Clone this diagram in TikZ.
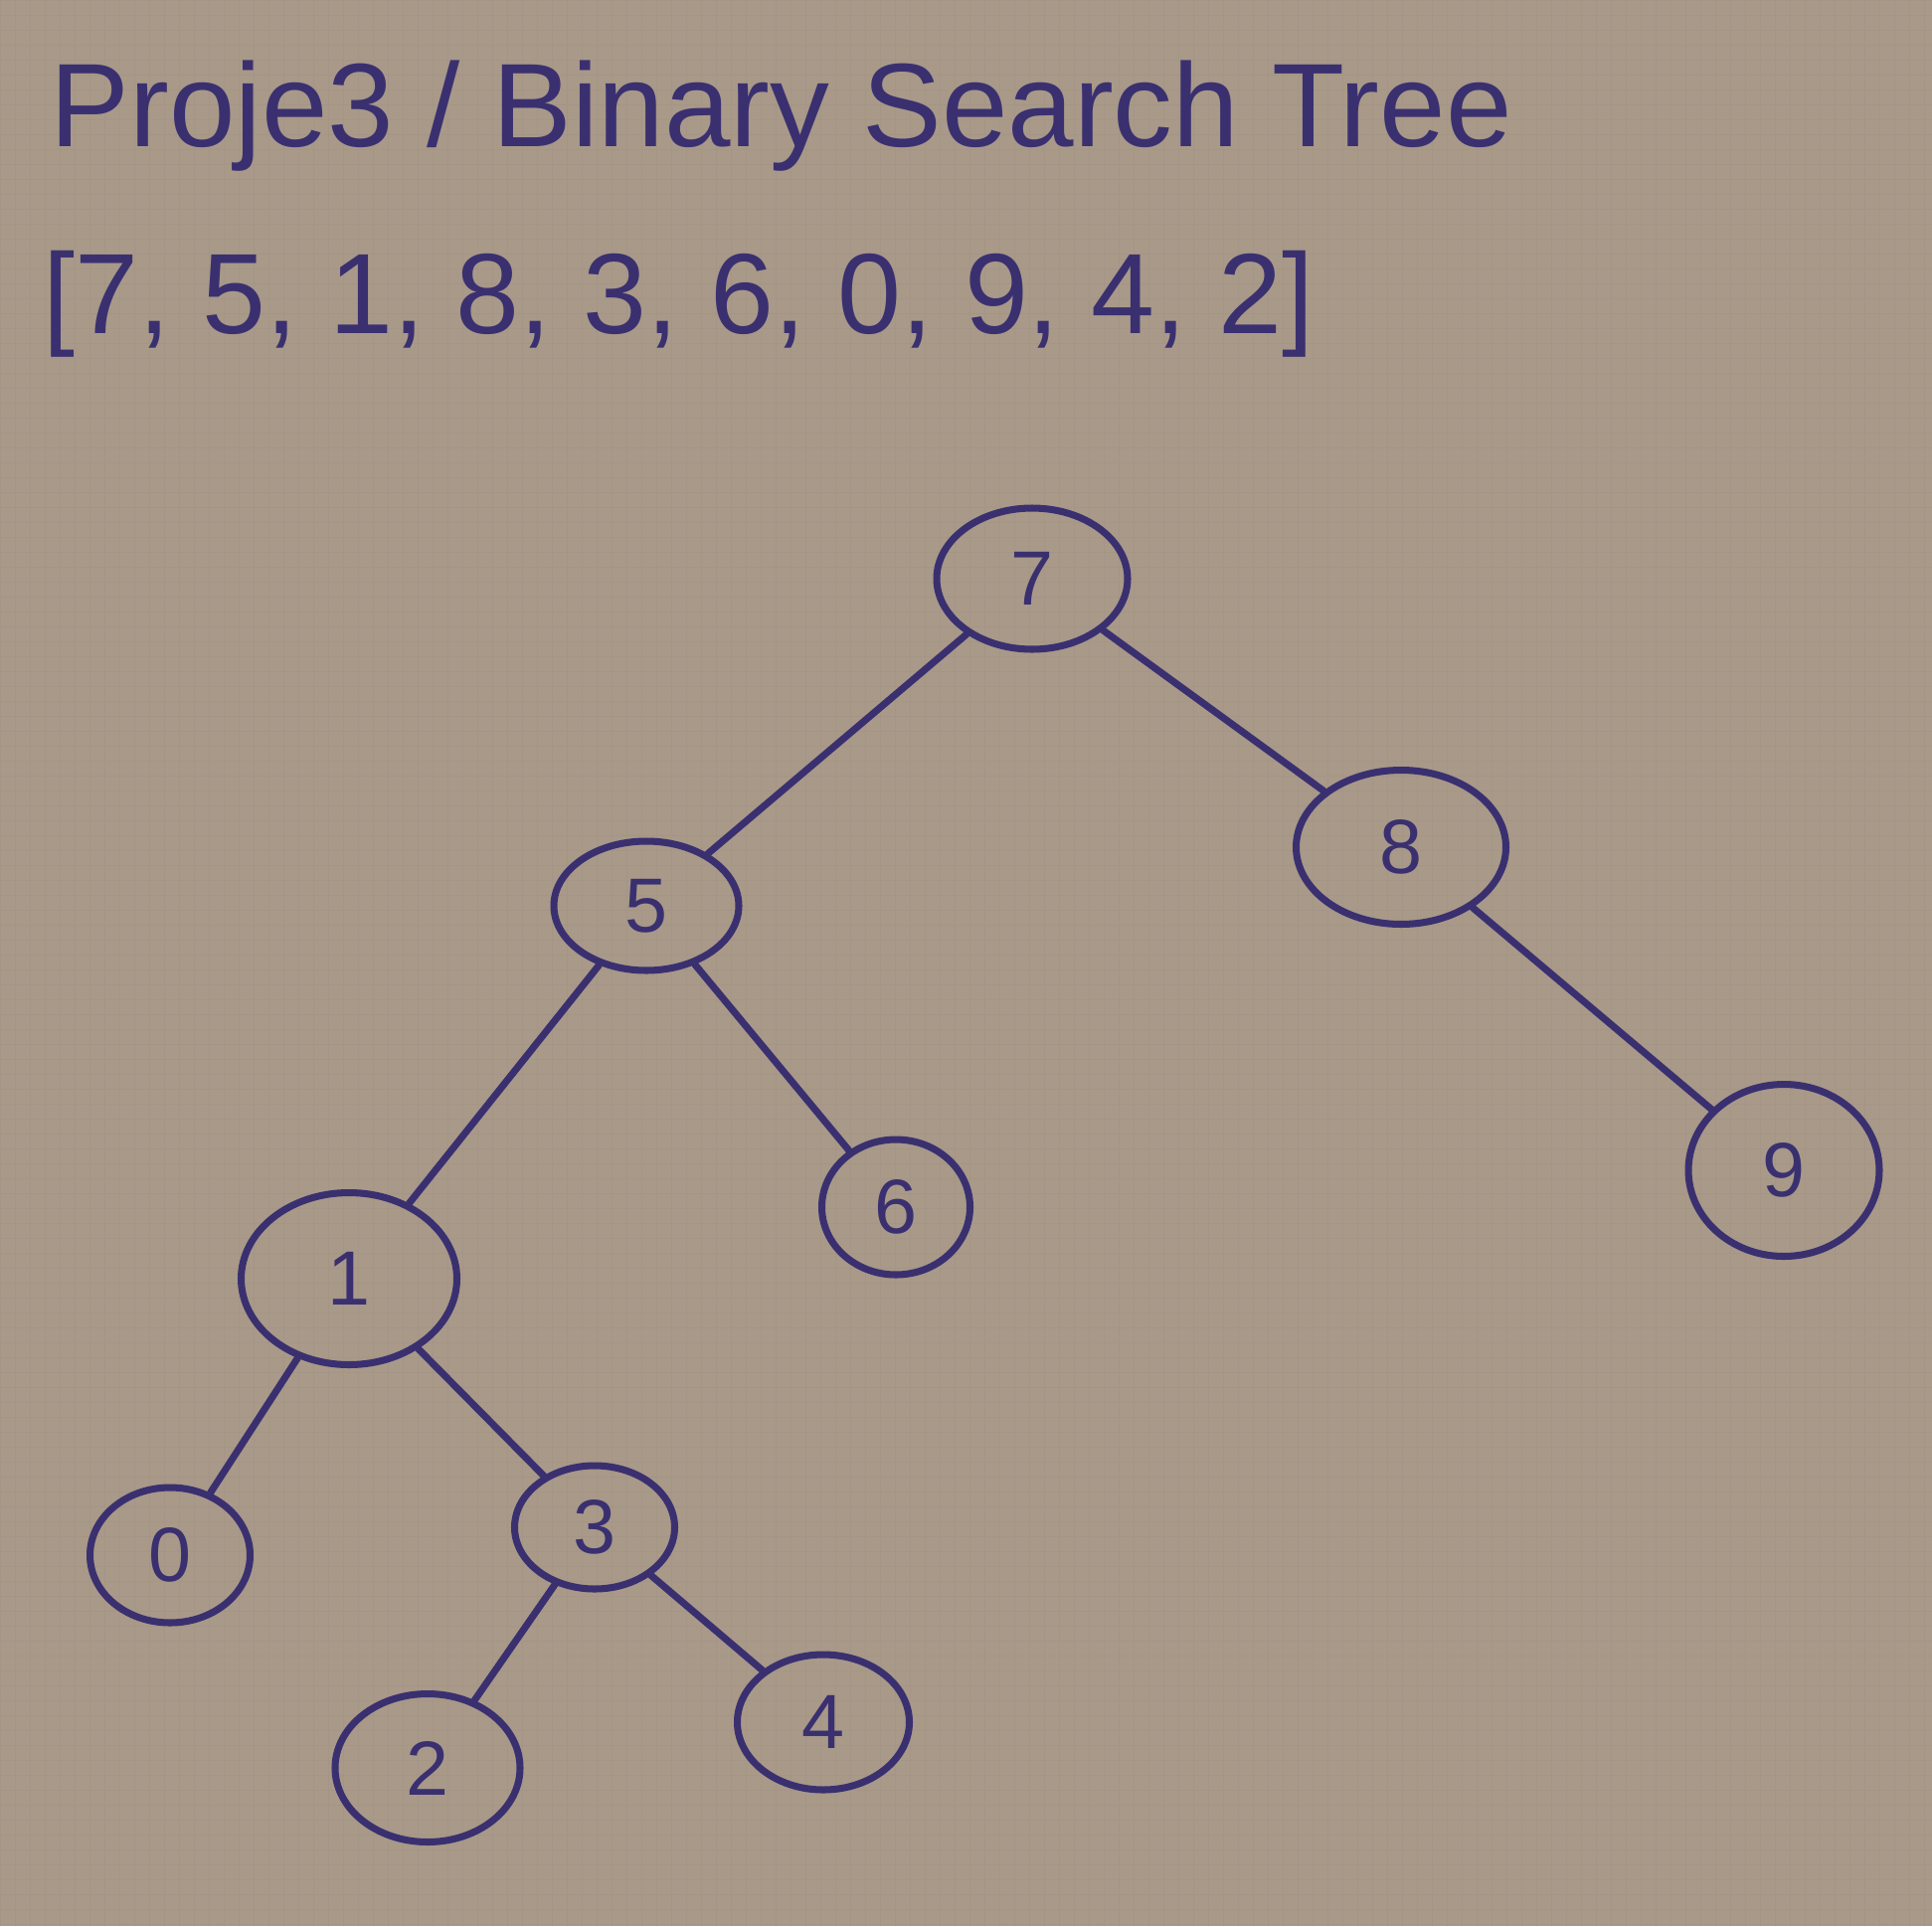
\documentclass[tikz,border=0pt]{standalone}
\usepackage{fontspec}
\setmainfont{Liberation Sans}
\usetikzlibrary{shapes.geometric}

\definecolor{paper}{RGB}{168,153,137}
\definecolor{ink}{RGB}{58,48,112}

\tikzset{
    bstnode/.style={ellipse, draw=ink, line width=2pt, text=ink, inner sep=0pt,
        font=\fontsize{22}{26}\selectfont},
    bstedge/.style={draw=ink, line width=2pt, line cap=round}
}

\begin{document}
\begin{tikzpicture}[line cap=round, line join=round]
        % page
        \def\W{19.43}
        \def\H{19.37}
        \fill[paper] (0,0) rectangle (\W,-\H);
        \useasboundingbox (0,0) rectangle (\W,-\H);

        % faint squared paper
        \draw[paper!93!black, line width=0.2pt, opacity=0.3, step=0.15] (0,-\H) grid (\W,0);

        % heading
        \node[anchor=base west, text=ink, inner sep=0pt, font=\fontsize{34}{40}\selectfont]
            (title) at (0.50,-1.47) {Proje3 / Binary Search Tree};
        \node[anchor=base west, text=ink, inner sep=0pt, font=\fontsize{32.7}{38}\selectfont]
            (keys) at (0.43,-3.35) {[7, 5, 1, 8, 3, 6, 0, 9, 4, 2]};

        % tree nodes
        \node[bstnode, minimum width=1.92cm, minimum height=1.42cm] (n7) at (10.38,-5.82)  {7};
        \node[bstnode, minimum width=1.86cm, minimum height=1.30cm] (n5) at (6.50,-9.11)   {5};
        \node[bstnode, minimum width=2.11cm, minimum height=1.55cm] (n8) at (14.09,-8.52)  {8};
        \node[bstnode, minimum width=2.17cm, minimum height=1.73cm] (n1) at (3.51,-12.86)  {1};
        \node[bstnode, minimum width=1.49cm, minimum height=1.36cm] (n6) at (9.01,-12.14)  {6};
        \node[bstnode, minimum width=1.92cm, minimum height=1.73cm] (n9) at (17.94,-11.77) {9};
        \node[bstnode, minimum width=1.61cm, minimum height=1.36cm] (n0) at (1.71,-15.64)  {0};
        \node[bstnode, minimum width=1.61cm, minimum height=1.24cm] (n3) at (5.98,-15.36)  {3};
        \node[bstnode, minimum width=1.86cm, minimum height=1.49cm] (n2) at (4.30,-17.78)  {2};
        \node[bstnode, minimum width=1.73cm, minimum height=1.36cm] (n4) at (8.28,-17.32)  {4};

        % parent -- child
        \foreach \p/\c in {n7/n5, n7/n8, n5/n1, n5/n6, n8/n9, n1/n0, n1/n3, n3/n2, n3/n4}{
            \draw[bstedge] (\p) -- (\c);
        }
    \end{tikzpicture}
\end{document}
